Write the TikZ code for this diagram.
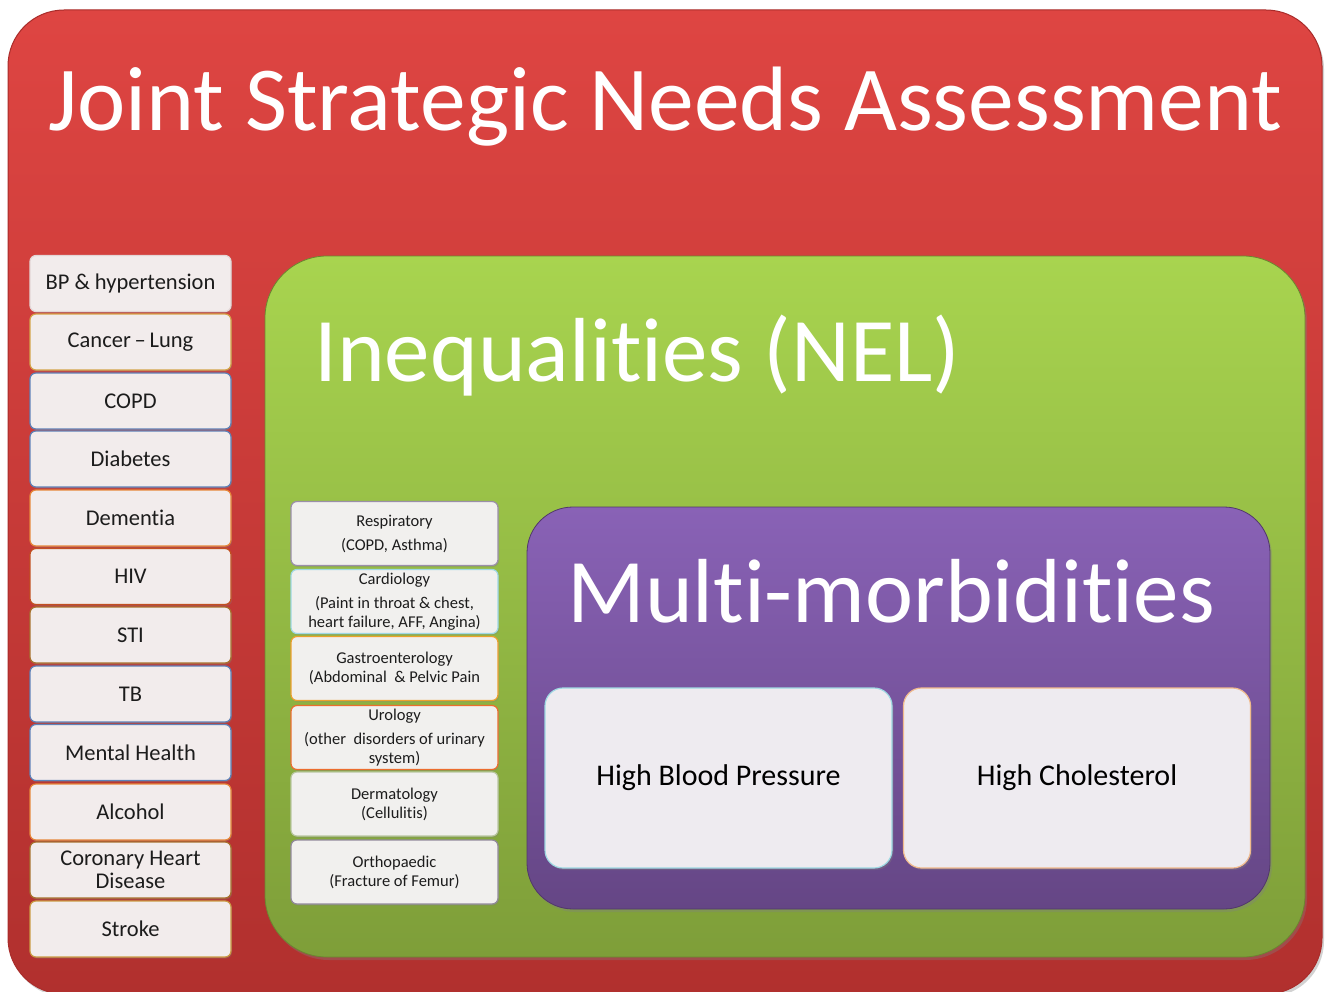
\documentclass[tikz,border=0pt]{standalone}
\usepackage{fontspec}
\setmainfont{Carlito}[Ligatures=NoCommon]
\usetikzlibrary{shadows}

\definecolor{redtop}{HTML}{DE4542}
\definecolor{redbot}{HTML}{B1302E}
\definecolor{redline}{HTML}{A92C2A}
\definecolor{greentop}{HTML}{A8D44F}
\definecolor{greenbot}{HTML}{7E9E39}
\definecolor{purptop}{HTML}{8962B6}
\definecolor{purpbot}{HTML}{654685}
\definecolor{cardfill}{HTML}{F2ECEC}
\definecolor{midfill}{HTML}{F1F0EE}
\definecolor{mmfill}{HTML}{EEEBF0}
\definecolor{txt}{HTML}{1C1C1C}
\definecolor{eorange}{HTML}{E7883A}
\definecolor{eblue}{HTML}{5F82B8}
\definecolor{ebrown}{HTML}{A8722E}
\definecolor{egold}{HTML}{D4A54A}
\definecolor{egrey}{HTML}{9A8FA8}
\definecolor{ecyan}{HTML}{9ED8E2}
\definecolor{eolive}{HTML}{B9C7A0}
\definecolor{epeach}{HTML}{F0B98C}
\definecolor{elight}{HTML}{E3D6D6}

\tikzset{
  panel/.style={rounded corners=#1, inner sep=0pt,
    drop shadow={opacity=0.35, shadow xshift=2pt, shadow yshift=-3pt}},
  tag/.style={rounded corners=6pt, inner sep=0pt, fill=cardfill,
    draw=#1, line width=1.2pt, text=txt, align=center,
    minimum width=201pt, minimum height=56pt,
    font=\fontsize{22.5}{23.5}\selectfont,
    drop shadow={opacity=0.3, shadow xshift=1pt, shadow yshift=-1.5pt}},
  spec/.style={rounded corners=6pt, inner sep=0pt, fill=midfill,
    draw=#1, line width=1.2pt, text=txt, align=center,
    minimum width=207pt, minimum height=64pt,
    font=\fontsize{16.5}{19}\selectfont,
    drop shadow={opacity=0.3, shadow xshift=1pt, shadow yshift=-1.5pt}},
  cond/.style={rounded corners=18pt, inner sep=0pt, fill=mmfill,
    draw=#1, line width=1.2pt, text=black,
    minimum width=347pt, minimum height=180pt,
    font=\fontsize{30}{32}\selectfont,
    drop shadow={opacity=0.35, shadow xshift=1.5pt, shadow yshift=-2pt}},
  heading/.style={inner sep=0pt, anchor=base west, text=white}
}

\begin{document}
\begin{tikzpicture}[x=1pt, y=-1pt]
  \useasboundingbox (0,0) rectangle (1329,992);
  \fill[white] (0,0) rectangle (1329,992);

  % outer layer
  \node[panel=56pt, top color=redtop, bottom color=redbot, draw=redline, line width=1pt,
        minimum width=1314pt, minimum height=984pt] (jsna) at (665,502) {};
  \node[heading, font=\fontsize{91.5}{94}\selectfont] (jsnatitle) at (48,131)
    {Joint Strategic Needs Assessment};

  % inequalities layer
  \node[panel=62pt, top color=greentop, bottom color=greenbot, draw=greenbot!85!black, line width=0.8pt,
        minimum width=1040pt, minimum height=701pt] (nel) at (785,606.5) {};
  \node[heading, font=\fontsize{91}{94}\selectfont] (neltitle) at (314,381)
    {Inequalities (NEL)};

  % multi-morbidity layer
  \node[panel=46pt, top color=purptop, bottom color=purpbot, draw=purpbot!80!black, line width=0.8pt,
        minimum width=743pt, minimum height=402pt] (mm) at (898.5,708) {};
  \node[heading, font=\fontsize{91}{94}\selectfont] (mmtitle) at (567,622)
    {Multi-morbidities};

  \node[cond=ecyan] (hbp) at (718.5,778) {High Blood Pressure};
  \node[cond=epeach] (hc) at (1077,778) {High Cholesterol};

  % conditions column
  \node[tag=elight] (bp)  at (130.5,283.5) {BP \& hypertension};
  \node[tag=egold]  (can) at (130.5,342)   {Cancer\,--\,Lung};
  \node[tag=eblue]  (copd) at (130.5,401)  {COPD};
  \node[tag=eblue]  (dia) at (130.5,459)   {Diabetes};
  \node[tag=eorange] (dem) at (130.5,518)  {Dementia};
  \node[tag=ebrown!70!red] (hiv) at (130.5,576.5) {HIV};
  \node[tag=ebrown] (sti) at (130.5,635)   {STI};
  \node[tag=eblue]  (tb) at (130.5,694)    {TB};
  \node[tag=eblue]  (mh) at (130.5,752.5)  {Mental Health};
  \node[tag=eorange] (alc) at (130.5,812)  {Alcohol};
  \node[tag=ebrown] (chd) at (130.5,870)   {Coronary Heart\\Disease};
  \node[tag=egold!80!ebrown] (str) at (130.5,929) {Stroke};

  % specialties column
  \node[spec=egrey]  (resp) at (394.5,533.5) {Respiratory\\[5pt](COPD, Asthma)};
  \node[spec=ecyan]  (card) at (394.5,601.5) {Cardiology\\[5pt](Paint in throat \& chest,\\heart failure, AFF, Angina)};
  \node[spec=eorange!80!yellow] (gast) at (394.5,668.5) {Gastroenterology\\(Abdominal~ \& Pelvic Pain};
  \node[spec=eorange!80!red] (uro) at (394.5,737.5) {Urology\\[5pt](other~ disorders of urinary\\system)};
  \node[spec=eolive] (derm) at (394.5,804) {Dermatology\\(Cellulitis)};
  \node[spec=egrey!70!gray] (orth) at (394.5,872) {Orthopaedic\\(Fracture of Femur)};
\end{tikzpicture}
\end{document}
